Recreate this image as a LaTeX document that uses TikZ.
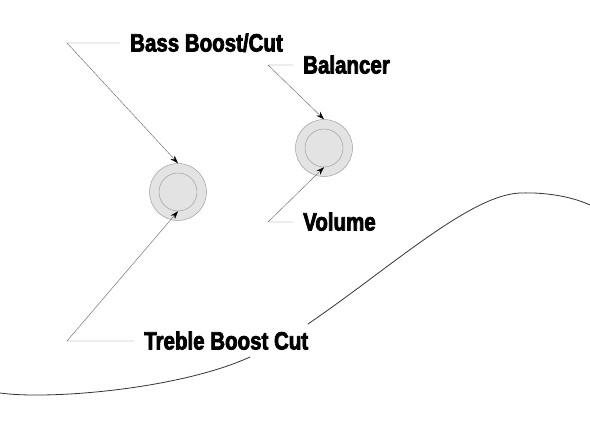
\documentclass[tikz,border=0pt]{standalone}
\usepackage{fontspec}
\newfontfamily\knobfont{Liberation Sans}[FakeStretch=0.82,FakeBold=3]
\usetikzlibrary{arrows.meta,positioning}

\begin{document}
\begin{tikzpicture}[x=1pt,y=-1pt,line join=round,line cap=round,
	knob/.style={circle,draw=gray!75,fill=gray!22,line width=0.5pt,minimum size=57pt,inner sep=0},
	knobtop/.style={circle,draw=gray!75,fill=gray!22,line width=0.5pt,minimum size=38pt,inner sep=0},
	lbl/.style={font=\knobfont\bfseries\fontsize{25}{25}\selectfont,inner xsep=10pt,inner ysep=0pt,text height=17pt,text depth=0pt},
	lead/.style={gray!85!black,line width=0.45pt,-{Stealth[length=8pt,width=5.5pt,color=black]}},
	body/.style={black!80,line width=0.8pt}]
	\useasboundingbox (0,0) rectangle (590,434);
	%Knobs
	\node[knob] (knobA) at (178,192) {};
	\node[knobtop] (knobAin) at (178,192) {};
	\node[knob] (knobB) at (324,148) {};
	\node[knobtop] (knobBin) at (324,148) {};
	%Elbows
	\coordinate (bassE) at (67,43);
	\coordinate (balE) at (268,65);
	\coordinate (volE) at (268,222);
	\coordinate (trebE) at (67,341);
	%Labels
	\node[lbl,right=53pt of bassE] (bass) {Bass Boost/Cut};
	\node[lbl,right=25pt of balE] (bal) {Balancer};
	\node[lbl,right=25pt of volE] (vol) {Volume};
	\node[lbl,right=67pt of trebE] (treb) {Treble Boost Cut};
	%Leaders
	\draw[lead] (bass.west)--(bassE)--(knobA.north);
	\draw[lead] (treb.west)--(trebE)--(knobAin.south);
	\draw[lead] (bal.west)--(balE)--(knobB.north);
	\draw[lead] (vol.west)--(volE)--(knobBin.south);
	%Body edge
	\draw[body] (0,393) .. controls (50,400) and (180,389) .. (250,357);
	\draw[body] (308,324) .. controls (390,268) and (470,195) .. (520,193)
		.. controls (550,192) and (575,198) .. (590,205);
\end{tikzpicture}
\end{document}
